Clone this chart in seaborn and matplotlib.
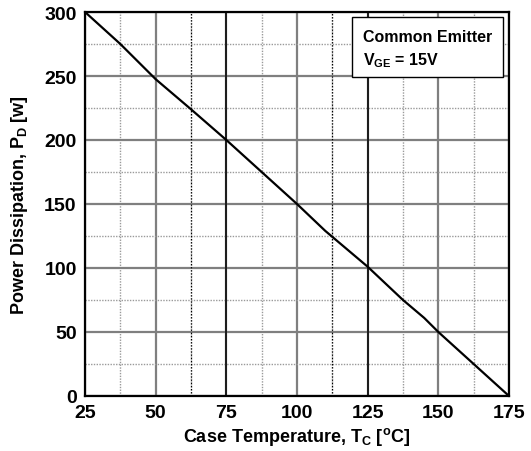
import matplotlib
matplotlib.use("Agg")
import matplotlib.pyplot as plt
from matplotlib.ticker import MultipleLocator
from matplotlib.patches import Rectangle
import seaborn as sns
import pandas as pd

# Maximum power dissipation vs. case temperature
case_temp_c = [25, 37.5, 50, 62.5, 75, 87.5, 100, 110, 125, 137.5, 145, 150, 162.5, 175]
power_w = [300, 275, 247.5, 224, 200, 175, 150, 129, 101, 75, 61, 50, 25, 0]

x_ticks = [25, 50, 75, 100, 125, 150, 175]
y_ticks = [0, 50, 100, 150, 200, 250, 300]

df = pd.DataFrame({"Tc": case_temp_c, "Pd": power_w})

sns.set_theme(style="white")
plt.rcParams["font.family"] = ["Liberation Sans", "DejaVu Sans"]
plt.rcParams["font.weight"] = "bold"
plt.rcParams["mathtext.fontset"] = "custom"
plt.rcParams["mathtext.rm"] = "Liberation Sans:bold"
plt.rcParams["mathtext.bf"] = "Liberation Sans:bold"
plt.rcParams["mathtext.it"] = "Liberation Sans:bold"
for key in ("text.color", "axes.labelcolor", "xtick.color", "ytick.color",
            "xtick.labelcolor", "ytick.labelcolor"):
    plt.rcParams[key] = "black"

fig = plt.figure(figsize=(5.31, 4.52), dpi=100)
ax = fig.add_axes([85 / 531, 1 - 397 / 452, (509 - 85) / 531, (397 - 13) / 452])

ax.set_xlim(25, 175)
ax.set_ylim(0, 300)
ax.set_xticks(x_ticks)
ax.set_yticks(y_ticks)
ax.xaxis.set_minor_locator(MultipleLocator(12.5))
ax.yaxis.set_minor_locator(MultipleLocator(25))

# grid: solid gray majors, dotted minors
ax.grid(which="major", color="#7f7f7f", linestyle="-", linewidth=1.6, zorder=0)
ax.grid(which="minor", color="#9a9a9a", linestyle=(0, (1, 1)), linewidth=1.0, zorder=0)
for xv in (75, 125):
    ax.axvline(xv, color="black", linewidth=1.1, zorder=1)
for xv in (62.5, 112.5):
    ax.axvline(xv, color="black", linestyle=(0, (1, 1.5)), linewidth=0.9, zorder=1)
ax.set_axisbelow(True)

sns.lineplot(data=df, x="Tc", y="Pd", color="black", linewidth=1.6, ax=ax, zorder=3)

for s in ax.spines.values():
    s.set_color("black")
    s.set_linewidth(1.6)
    s.set_visible(True)

ax.tick_params(which="both", length=0, labelcolor="black")
ax.tick_params(axis="x", pad=6, labelsize=14)
ax.tick_params(axis="y", pad=6, labelsize=14)
for lab in ax.get_xticklabels() + ax.get_yticklabels():
    lab.set_fontweight("bold")

ax.set_xlabel(r"Case Temperature, T$_\mathrm{C}$ [$^\mathrm{o}$C]", fontsize=13,
              fontweight="bold", labelpad=3, color="black")
ax.set_ylabel(r"Power Dissipation, P$_\mathrm{D}$ [w]", fontsize=13,
              fontweight="bold", labelpad=10, color="black")

# annotation box with test condition
ax.add_patch(Rectangle((0.630, 0.831), 0.356, 0.156, transform=ax.transAxes,
                       facecolor="white", edgecolor="black", linewidth=1.0, zorder=5))
ax.text(0.656, 0.924, "Common Emitter", transform=ax.transAxes, ha="left",
        va="baseline", fontsize=11.5, fontweight="bold", color="black", zorder=6)
ax.text(0.656, 0.865, r"V$_\mathrm{GE}$ = 15V", transform=ax.transAxes, ha="left",
        va="baseline", fontsize=11.5, fontweight="bold", color="black", zorder=6)

fig.savefig("out.png", dpi=100)
